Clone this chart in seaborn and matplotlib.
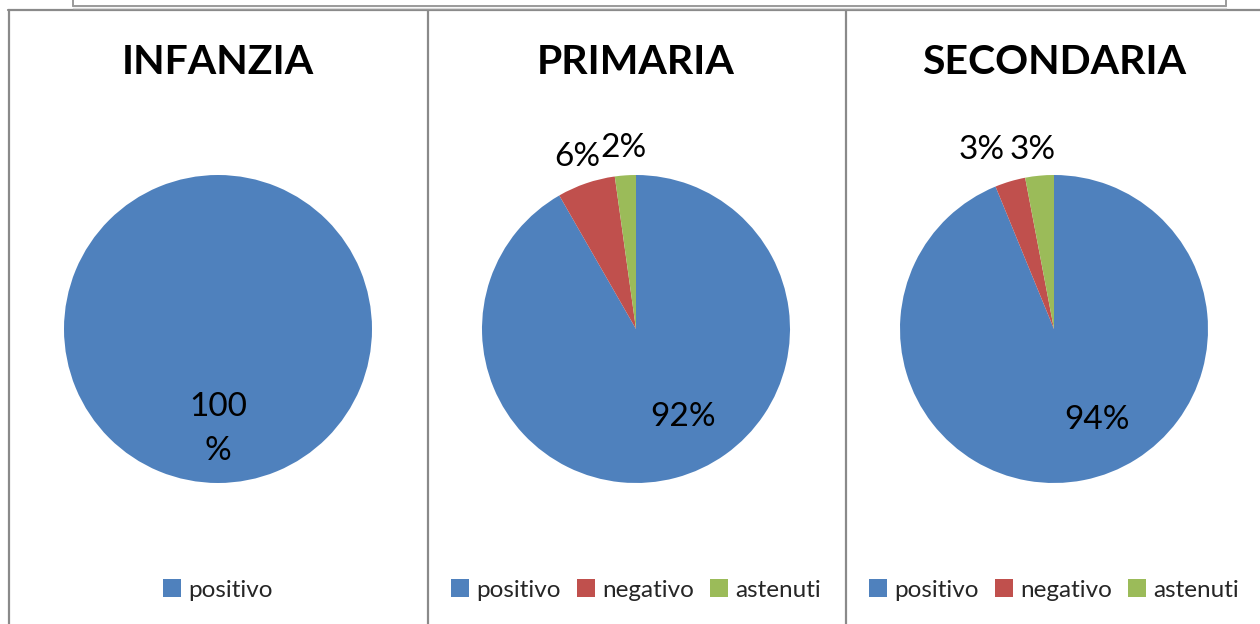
import numpy as np
import matplotlib
matplotlib.use("Agg")
import matplotlib.pyplot as plt
from matplotlib.lines import Line2D
from matplotlib.patches import Patch
import seaborn as sns

# ---- data ----
panel_titles = ["INFANZIA", "PRIMARIA", "SECONDARIA"]
categories = ["positivo", "negativo", "astenuti"]
infanzia_values = [100.0]
primaria_values = [91.7, 6.1, 2.2]
secondaria_values = [93.8, 3.2, 3.0]
infanzia_labels = ["100\n%"]
primaria_labels = ["92%", "6%", "2%"]
secondaria_labels = ["94%", "3%", "3%"]

sns.set_theme(style="white")
plt.rcParams["font.family"] = ["Lato", "DejaVu Sans"]
palette = sns.color_palette(["#4F81BD", "#C0504D", "#9BBB59"])

W, H = 1260, 624
fig = plt.figure(figsize=(W / 100, H / 100), dpi=100)
fig.patch.set_facecolor("white")

def fx(px):
    return px / W

def fy(py):
    return 1 - py / H

# frames
frame_col = "#8a8a8a"
for x in [9, 428, 846]:
    fig.add_artist(Line2D([fx(x), fx(x)], [fy(10), fy(H + 5)], color=frame_col, lw=1.6))
fig.add_artist(Line2D([fx(8), fx(W + 5)], [fy(10), fy(10)], color=frame_col, lw=1.6))
# partially visible box above
box_col = "#9a9a9a"
fig.add_artist(Line2D([fx(73), fx(1226)], [fy(6), fy(6)], color=box_col, lw=1.4))
fig.add_artist(Line2D([fx(73), fx(1226)], [fy(7.5), fy(7.5)], color="#d8d8d8", lw=1.0))
for x in [73, 1226]:
    fig.add_artist(Line2D([fx(x), fx(x)], [fy(6), fy(-5)], color=box_col, lw=1.4))

datasets = [
    (infanzia_values, infanzia_labels, 1),
    (primaria_values, primaria_labels, 3),
    (secondaria_values, secondaria_labels, 3),
]
# label adjustments (layout only, in radius units)
nudges = [
    [(0.0, 0.0)],
    [(0.137, 0.057), (0.0, 0.0), (0.0, 0.0)],
    [(0.154, 0.047), (-0.131, 0.03), (-0.025, -0.013)],
]

R = 154
for i, (vals, labs, ncat) in enumerate(datasets):
    cx = 218 + 418 * i
    cy = 329
    ax = fig.add_axes([fx(cx - R), fy(cy + R), 2 * R / W, 2 * R / H])
    wedges, _ = ax.pie(vals, colors=palette[:len(vals)], startangle=90,
                       counterclock=False, radius=1.0,
                       wedgeprops=dict(linewidth=0, edgecolor="none"))
    ax.set_xlim(-1, 1)
    ax.set_ylim(-1, 1)
    ax.set_aspect("equal")
    ax.axis("off")
    total = sum(vals)
    start = 0.0
    for j, (v, lab) in enumerate(zip(vals, labs)):
        frac = v / total
        mid = start + frac * 180.0
        start += frac * 360.0
        rad = np.deg2rad(mid)
        d = 0.65 if frac > 0.15 else 1.18
        x = np.sin(rad) * d + nudges[i][j][0]
        y = np.cos(rad) * d + nudges[i][j][1]
        ax.text(x, y, lab, ha="center", va="center", fontsize=24,
                color="black", linespacing=1.6)
    # title
    fig.text(fx(cx), fy(62), panel_titles[i], ha="center", va="center",
             fontsize=29.5, fontweight="bold", color="black")
    # legend
    handles = [Patch(facecolor=palette[k], edgecolor="none", label=categories[k])
               for k in range(ncat)]
    fig.legend(handles=handles, loc="center", bbox_to_anchor=(fx(cx), fy(590)),
               ncol=ncat, frameon=False, fontsize=17.5, handlelength=0.75,
               handleheight=0.75, handletextpad=0.3, columnspacing=0.65,
               borderaxespad=0, borderpad=0)

fig.savefig("out.png", dpi=100, facecolor="white")
